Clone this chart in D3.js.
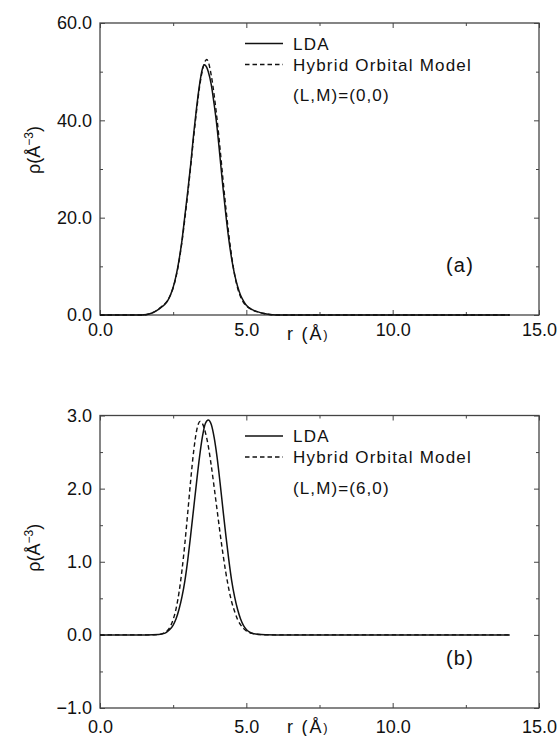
<!DOCTYPE html>
<html>
<head>
<meta charset="utf-8">
<script src="https://cdn.jsdelivr.net/npm/d3@7"></script>
<style>
  html, body { margin: 0; padding: 0; background: #fff; }
  svg { display: block; font-family: "Liberation Sans", Arial, Helvetica, sans-serif; }
</style>
</head>
<body>
<svg id="chart" width="559" height="736"></svg>
<script>
// Radial density rho(r) for the (L,M) multipole components, two panels.
// Each series is a list of [r (Å), rho (Å^-3)] pairs.

// Panel (a): (L,M)=(0,0)
const ldaA = [
  [0, 0], [1.4, 0], [1.6, 0.1], [1.8, 0.45], [2.0, 1.15], [2.1, 1.6], [2.2, 2.1],
  [2.3, 2.8], [2.4, 4.0], [2.5, 5.7], [2.6, 8.1], [2.7, 11.3], [2.8, 15.3],
  [2.9, 20.4], [3.0, 25.5], [3.1, 31.0], [3.2, 37.2], [3.3, 42.6], [3.4, 47.3],
  [3.5, 50.6], [3.57, 51.4], [3.6, 51.3], [3.7, 50.0], [3.8, 47.4], [3.9, 43.3],
  [4.0, 38.5], [4.1, 32.5], [4.2, 26.3], [4.3, 20.6], [4.4, 15.6], [4.5, 11.5],
  [4.6, 8.3], [4.7, 5.9], [4.8, 4.1], [4.9, 2.9], [5.0, 2.0], [5.2, 1.1],
  [5.4, 0.65], [5.6, 0.3], [5.8, 0.1], [6.0, 0.02], [6.5, 0], [14.0, 0]
];
const hybA = [
  [0, 0], [1.4, 0], [1.6, 0.1], [1.8, 0.5], [2.0, 1.2], [2.1, 1.7], [2.2, 2.2],
  [2.3, 2.9], [2.4, 4.0], [2.5, 5.6], [2.6, 7.9], [2.7, 11.0], [2.8, 15.0],
  [2.9, 19.8], [3.0, 25.0], [3.1, 30.6], [3.2, 36.5], [3.3, 42.0], [3.4, 46.8],
  [3.5, 50.3], [3.6, 52.2], [3.65, 52.5], [3.7, 52.0], [3.8, 49.3], [3.9, 45.2],
  [4.0, 40.2], [4.1, 34.3], [4.2, 28.0], [4.3, 22.0], [4.4, 16.6], [4.5, 12.0],
  [4.6, 8.3], [4.7, 5.6], [4.8, 3.8], [4.9, 2.6], [5.0, 1.9], [5.2, 1.05],
  [5.4, 0.6], [5.6, 0.3], [5.8, 0.1], [6.0, 0.02], [6.5, 0], [14.0, 0]
];

// Panel (b): (L,M)=(6,0)
const ldaB = [
  [0, 0], [1.6, 0], [2.0, 0.005], [2.2, 0.02], [2.3, 0.045], [2.4, 0.08],
  [2.5, 0.135], [2.6, 0.22], [2.7, 0.35], [2.8, 0.52], [2.9, 0.74], [3.0, 1.03],
  [3.1, 1.37], [3.2, 1.73], [3.3, 2.09], [3.4, 2.43], [3.5, 2.71], [3.6, 2.89],
  [3.7, 2.94], [3.8, 2.88], [3.9, 2.70], [4.0, 2.43], [4.1, 2.09], [4.2, 1.72],
  [4.3, 1.36], [4.4, 1.03], [4.5, 0.74], [4.6, 0.52], [4.7, 0.35], [4.8, 0.22],
  [4.9, 0.13], [5.0, 0.075], [5.1, 0.042], [5.2, 0.022], [5.4, 0.008],
  [5.7, 0.002], [6.0, 0], [14.0, 0]
];
const hybB = [
  [0, 0], [1.8, 0], [2.0, 0.005], [2.1, 0.013], [2.2, 0.028], [2.3, 0.058],
  [2.4, 0.113], [2.5, 0.21], [2.6, 0.36], [2.7, 0.58], [2.8, 0.88], [2.9, 1.25],
  [3.0, 1.68], [3.1, 2.12], [3.2, 2.51], [3.3, 2.79], [3.42, 2.92], [3.5, 2.89],
  [3.6, 2.77], [3.7, 2.58], [3.8, 2.32], [3.9, 2.02], [4.0, 1.71], [4.1, 1.40],
  [4.2, 1.11], [4.3, 0.85], [4.4, 0.63], [4.5, 0.45], [4.6, 0.32], [4.7, 0.21],
  [4.8, 0.14], [4.9, 0.089], [5.0, 0.055], [5.2, 0.02], [5.5, 0.004],
  [5.8, 0], [14.0, 0]
];

// Axis ticks
const xMajor = [0, 5, 10, 15];
const xMinor = [2.5, 7.5, 12.5];
const yMajorA = [0, 20, 40, 60];
const yMinorA = [10, 30, 50];
const yMajorB = [-1, 0, 1, 2, 3];
const yMinorB = [-0.5, 0.5, 1.5, 2.5];

// Legend and annotation text
const seriesNames = ["LDA", "Hybrid Orbital Model"];
const stateLabels = ["(L,M)=(0,0)", "(L,M)=(6,0)"];
const panelTags = ["(a)", "(b)"];

const svg = d3.select("#chart");

const panels = [
  { lda: ldaA, hyb: hybA, yDomain: [0, 60], yRange: [315, 23], yMajor: yMajorA, yMinor: yMinorA,
    state: stateLabels[0], tag: panelTags[0], labelPad: 8, titleShift: -19 },
  { lda: ldaB, hyb: hybB, yDomain: [-1, 3], yRange: [708, 415.5], yMajor: yMajorB, yMinor: yMinorB,
    state: stateLabels[1], tag: panelTags[1], labelPad: 12, titleShift: -14 }
];

const left = 100, right = 539;
const x = d3.scaleLinear().domain([0, 15]).range([left, right]);
const fmt = d3.format(".1f");
const frameColor = "#444";

panels.forEach(p => {
  const y = d3.scaleLinear().domain(p.yDomain).range(p.yRange);
  const top = p.yRange[1], bottom = p.yRange[0];
  const g = svg.append("g");

  // frame
  g.append("rect")
    .attr("x", left).attr("y", top)
    .attr("width", right - left).attr("height", bottom - top)
    .attr("fill", "none").attr("stroke", frameColor).attr("stroke-width", 1.3);

  const styleAxis = sel => {
    sel.select(".domain").remove();
    sel.selectAll(".tick line").attr("stroke", frameColor).attr("stroke-width", 1);
    sel.selectAll("text")
      .attr("fill", "#111")
      .style("font-size", "18px")
      .style("font-family", "'Liberation Sans', Arial, sans-serif");
  };

  // bottom axis with labels
  g.append("g").attr("transform", `translate(0,${bottom})`)
    .call(d3.axisBottom(x).tickValues(xMajor).tickSize(-5).tickPadding(p.labelPad).tickFormat(fmt))
    .call(styleAxis);
  g.append("g").attr("transform", `translate(0,${bottom})`)
    .call(d3.axisBottom(x).tickValues(xMinor).tickSize(-3).tickFormat(""))
    .call(styleAxis);
  // top axis ticks
  g.append("g").attr("transform", `translate(0,${top})`)
    .call(d3.axisTop(x).tickValues(xMajor).tickSize(-5).tickFormat(""))
    .call(styleAxis);
  g.append("g").attr("transform", `translate(0,${top})`)
    .call(d3.axisTop(x).tickValues(xMinor).tickSize(-3).tickFormat(""))
    .call(styleAxis);

  // left axis with labels
  g.append("g").attr("transform", `translate(${left},0)`)
    .call(d3.axisLeft(y).tickValues(p.yMajor).tickSize(-5).tickPadding(8)
      .tickFormat(d => (d < 0 ? "\u2212" : "") + fmt(Math.abs(d))))
    .call(styleAxis);
  g.append("g").attr("transform", `translate(${left},0)`)
    .call(d3.axisLeft(y).tickValues(p.yMinor).tickSize(-3).tickFormat(""))
    .call(styleAxis);
  // right axis ticks
  g.append("g").attr("transform", `translate(${right},0)`)
    .call(d3.axisRight(y).tickValues(p.yMajor).tickSize(-5).tickFormat(""))
    .call(styleAxis);
  g.append("g").attr("transform", `translate(${right},0)`)
    .call(d3.axisRight(y).tickValues(p.yMinor).tickSize(-3).tickFormat(""))
    .call(styleAxis);

  // curves
  const line = d3.line()
    .x(d => x(d[0])).y(d => y(d[1]))
    .curve(d3.curveMonotoneX);
  g.append("path").datum(p.hyb)
    .attr("d", line).attr("fill", "none").attr("stroke", "#111")
    .attr("stroke-width", 1.4).attr("stroke-dasharray", "4.5,3");
  g.append("path").datum(p.lda)
    .attr("d", line).attr("fill", "none").attr("stroke", "#111")
    .attr("stroke-width", 1.5);

  // legend
  const legTop = top + 20.5;
  const lg = g.append("g");
  [0, 1].forEach(i => {
    const ly = legTop + i * 21;
    lg.append("line")
      .attr("x1", 245).attr("x2", 283).attr("y1", ly).attr("y2", ly)
      .attr("stroke", "#111").attr("stroke-width", 1.4)
      .attr("stroke-dasharray", i === 1 ? "4.5,3" : null);
    lg.append("text")
      .attr("x", 293).attr("y", ly + 6)
      .attr("font-size", 17).attr("letter-spacing", 1.2).attr("fill", "#111")
      .text(seriesNames[i]);
  });
  g.append("text")
    .attr("x", 293).attr("y", legTop + 57.5)
    .attr("font-size", 17).attr("letter-spacing", 1.1).attr("fill", "#111")
    .text(p.state);

  // panel tag
  g.append("text")
    .attr("x", 446).attr("y", bottom - 43)
    .attr("font-size", 20).attr("letter-spacing", 1.2).attr("fill", "#111")
    .text(p.tag);

  // x axis title
  const xt = g.append("text")
    .attr("x", 287).attr("y", bottom + 25)
    .attr("font-size", 18).attr("letter-spacing", 1.8).attr("fill", "#111");
  xt.append("tspan").text("r (Å");
  xt.append("tspan").attr("font-size", 13).attr("dy", -1).text(")");

  // y axis title
  const yMid = (top + bottom) / 2 + p.titleShift;
  const yt = g.append("text")
    .attr("transform", `translate(40,${yMid}) rotate(-90)`)
    .attr("text-anchor", "middle")
    .attr("font-size", 18).attr("fill", "#111");
  yt.append("tspan").text("ρ(Å");
  yt.append("tspan").attr("font-size", 12).attr("dy", -7).text("−3");
  yt.append("tspan").attr("dy", 7).text(")");
});
</script>
</body>
</html>
